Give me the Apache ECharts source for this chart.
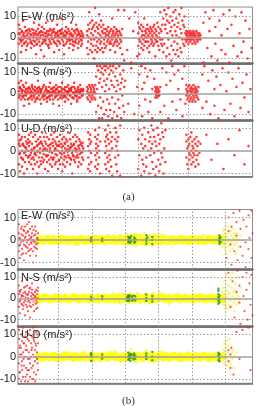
<!DOCTYPE html>
<html>
<head>
<meta charset="utf-8">
<script src="https://cdn.jsdelivr.net/npm/echarts@6/dist/echarts.min.js"></script>
<style>
  html, body { margin: 0; padding: 0; background: #fff; }
  #chart { width: 257px; height: 406px; }
</style>
</head>
<body>
<div id="chart"></div>
<script>
  // each row: [x, y, y, ...]  (x: sample position, y: acceleration m/s²)

  // ---- figure (a) ----
  const ewRedA = [
    [1,2,-3,6],[2,-1,4],[3,0,-2,-7],[4,3,-4],[5,-1,1,8],[6,2,-3],[7,5,0],[8,-2,3,-6],[9,1,-4],[10,-3,2],
    [11,0,4,10],[12,3,-1],[13,-2,1,-5],[14,4,-3],[15,0,2],[16,-4,1,7],[17,2,-2],[18,3,0,-8],[19,-1,-3],[20,1,4],
    [21,-2,2,6],[22,0,-4],[23,3,1,-6],[24,-3,5],[25,1,-1],[26,4,-2,-9],[27,-1,2],[28,2,-3,7],[29,0,3],[30,-4,1],
    [31,3,-1,-5],[32,-2,4],[33,1,-3],[34,2,0,8],[35,-1,3],[36,4,-2,-7],[37,0,1],[38,-3,2],[39,2,-4,6],[40,1,3],
    [41,-2,0,-6],[42,3,-3],[43,0,2,9],[44,-1,4],[45,2,-2],[46,-4,1,-8],[47,3,0],[48,1,-3,5],[49,-2,2],[50,4,-1],
    [51,0,3,-5],[52,-3,-1],[53,2,1,7],[54,-1,4],[55,1,-2,-6],[56,3,-4],[57,-2,2],[58,0,-1,6],[59,4,1],[60,-3,3,-5],
    [61,2,-2],[62,1,0],[63,-1,3,-4],[64,2,-3],[65,0,1],
    [1.5,-0.5,1.5],[3.5,2.5,-1.5],[6.5,0.5,-2.5],[9.5,3.5,-0.5],[12.5,-2.5,1.5],[15.5,-1.5,3.5],[18.5,1.5,-3.5],
    [21.5,-0.5,2.5],[24.5,2.5,-2.5],[27.5,0.5,-1.5],[30.5,1.5,-3.5],[33.5,3.5,-0.5],[36.5,-2.5,2.5],[39.5,0.5,-1.5],
    [42.5,1.5,3.5],[45.5,-3.5,0.5],[48.5,2.5,-0.5],[51.5,-1.5,1.5],[54.5,0.5,-3.5],[57.5,3.5,-2.5],[60.5,-0.5,1.5],[63.5,0.5,-1.5],
    [69,3,-5,1],[70,6,-2,-8],[71,0,4,12],[72,-6,7],[73,2,-3,-1],[74,8,-7,4],[75,-4,5,1],[76,6,-1,-10],[77,3,-6,14],
    [78,7,-4,0],[79,-2,5,-7],[80,4,-5,2],[81,-1,6,11],[82,1,-3,-6],[83,5,-2,8],[84,-5,3,0],[85,6,-7,2],[86,-3,4,-1],
    [87,0,2,-5],[88,4,-4,1],[89,-2,3,-13],[90,1,-1,5],[91,-3,2,0],[92,3,-2,-6],[93,0,4,-3],[94,-1,1,9],[95,2,-4,3],
    [96,-3,0,5],[97,1,-2,-7],[98,4,-1,2],[99,-2,3,-4],[100,0,1,13],[101,3,-3],[102,-1,2,-5],[103,1,-2],[104,4,-8],
    [106,13,-11],[109,-6],[111,9],[113,-12],[115,3],[117,12],[119,-9],
    [120,2,-4,7],[121,-1,5,-8],[122,4,-2],[123,0,6,-5],[124,-3,3,1],[125,5,-1,-6],[126,1,-4,9],[127,3,0,-2],
    [128,-2,4,2],[129,6,-5,0],[130,1,-2,4],[131,-4,3,-7],[132,2,0,5],[133,-1,4,-3],[134,3,-2,1],[135,0,5,-4],
    [136,-3,2,6],[137,4,-1,-9],[138,1,3,-2],[139,-2,0,7],[140,5,-4],[141,0,2,-6],[142,-1,4,12],[143,3,-3],[144,6,-1,-4],
    [145,9,-7],[146,13,-3],[147,4,6],[148,-9,11],[149,2,-5,8],[150,14,-1],[151,7,-8],[152,3,10],[153,-4,5,-11],
    [154,8,1],[155,-6,12],[156,6,-2],[157,-8,3,13],[158,1,9],[159,-3,5,-6],[160,7,-9],[161,11,0],[162,-5,4],
    [163,2,-7,14],[164,8,-1],[165,-3,6],[166,5,-4,10],[167,-1,2],
    [168,1,-2,3],[169,-1,2,0],[170,3,-3,1],[171,0,2,-1],[172,-2,1,3],[173,2,-1,0],[174,1,-3,2],[175,-1,0,3],
    [176,2,-2,1],[177,0,1,-3],[178,3,-1],[179,-2,2,0],[180,1,-1],[181,0,2],[182,-1,1],
    [185,7,-12],[187,12],[189,-5],[191,3,9],[193,-9],[195,13],[197,-3,5],[199,-11],[201,8],[203,1,-6],[205,11],
    [207,-8],[209,4],[211,-12,13],[213,6],[215,-4],[217,10],[219,-9],[221,2],[223,12,-7],[225,-2],[227,8],[229,-10],[231,4],[233,-5]
  ];

  const nsRedA = [
    [1,1,-2,5],[2,-1,3],[3,2,-3,6],[4,0,1],[5,-2,4],[6,3,-1,-6],[7,1,-3],[8,-1,2,5],[9,2,0],[10,-3,1],
    [11,0,3,-5],[12,2,-2],[13,-1,1],[14,3,-3,4],[15,0,2],[16,-2,-1],[17,1,3,-4],[18,-3,0],[19,2,-2],[20,0,1,6],
    [21,-1,3],[22,2,-3],[23,1,0,-5],[24,-2,2],[25,3,-1],[26,0,-3,4],[27,-1,1],[28,2,3],[29,-2,0,-4],[30,1,-2],
    [31,3,1],[32,-1,-3,5],[33,0,2],[34,2,-1],[35,-3,1,-5],[36,1,3],[37,0,-2],[38,2,0,4],[39,-1,2],[40,3,-3],
    [41,0,1,-6],[42,-2,3],[43,1,-1],[44,2,0,5],[45,-1,-2],[46,0,2],[47,3,-1,-4],[48,-2,1],[49,1,3],[50,0,-3,4],
    [51,2,1],[52,-1,-1],[53,1,2,-5],[54,3,-2],[55,-2,0],[56,0,3,5],[57,2,-1],[58,-1,1],[59,1,-3,-4],[60,3,2],
    [61,-2,0],[62,0,-2,4],[63,2,1],[64,-1,-1],[65,1,2],
    [1.5,-0.5,2.5],[4.5,1.5,-1.5],[7.5,0.5,-0.5],[10.5,2.5,-2.5],[13.5,-1.5,0.5],[16.5,1.5,-0.5],[19.5,-2.5,2.5],
    [22.5,0.5,1.5],[25.5,-0.5,-1.5],[28.5,1.5,-2.5],[31.5,-1.5,0.5],[34.5,0.5,2.5],[37.5,1.5,-1.5],[40.5,-0.5,0.5],
    [43.5,2.5,-2.5],[46.5,-1.5,1.5],[49.5,0.5,-0.5],[52.5,1.5,2.5],[55.5,-2.5,0.5],[58.5,0.5,-1.5],[61.5,1.5,0.5],[64.5,-0.5,1.5],
    [69,1,-2,3],[70,-3,2,0],[71,4,-1],[72,0,3,-4],[73,2,-2,1],[74,-1,4,-3],[75,3,0],[76,-2,1,2],[77,0,-3,4],
    [78,8,-9],[79,13,2],[80,-6,11],[81,5,-12],[82,13,-2,7],[83,10,-7],[84,3,12,-12],[85,-4,9],[86,13,6,-10],
    [87,1,11],[88,-8,13,4],[89,7,-3],[90,12,-11],[91,-5,9,2],[92,13,-8],[93,6,11],[94,-2,-12,4],[95,10,13],
    [96,-9,3],[97,8,-5],[98,12,1],[99,-11,6],[100,4,-3],[101,13,-7],[102,2,9],[103,-12,5],[104,7,-1],[105,-6,11],
    [106,3,-9],[107,6],[110,-5],[113,12],[116,-10],[119,3],
    [121,9,-6],[123,13],[124,-11,2],[126,5],[127,-3,12],[129,8],[130,-9],[132,11,-4],[134,2,-12],[136,7],
    [137,1,-2,3],[138,0,2,-1],[139,-2,1,3],[140,2,-1,0],[141,-1,1],[142,3,-9],[144,12],[146,-6],[148,4,10],
    [150,-12],[152,6],[154,-4,13],[156,9],[158,-8],[160,2,11],[162,-3],[164,7,-11],[166,13],[167,-5],
    [168,2,-1,4],[169,-3,1,0],[170,3,-2,1],[171,-1,4,-4],[172,1,-3,2],[173,0,3,-2],[174,-4,2,1],[175,4,-1,-3],
    [176,0,2,-2],[177,3,-4,1],[178,-1,0,2],[179,1,-2],[180,-3,3],
    [184,9,-7],[186,13],[188,-4],[190,6],[192,-10],[194,11],[196,2,-6],[198,8],[200,-12],[202,4],[204,12],
    [206,-8],[208,1],[210,10],[212,-5],[214,7],[216,-11],[218,3],[220,12],[222,-7],[224,5],[226,-2],[228,9],[230,-9],[232,2]
  ];

  const udRedA = [
    [1,3,-6,7],[2,-1,2,-9],[3,5,-3],[4,0,-7,6],[5,-4,3],[6,2,-1,-10],[7,6,-5],[8,-2,1,4],[9,-8,3],[10,0,5,-3],
    [11,-5,2,7],[12,4,-2],[13,-1,-6,8],[14,3,0],[15,-3,6,-8],[16,1,-4],[17,7,-1,-6],[18,-2,4],[19,2,-5,-10],[20,5,0],
    [21,-3,3,-7],[22,1,-1,6],[23,-6,4],[24,3,-3,8],[25,0,2,-5],[26,-4,6],[27,4,-8,1],[28,-2,3],[29,6,-5,0],[30,2,-2,-9],
    [31,-4,5],[32,0,1,-6],[33,3,7,-3],[34,-1,-7],[35,5,2,-4],[36,-3,0,8],[37,1,4,-6],[38,-5,3],[39,2,-2,6],[40,-8,0],
    [41,4,-4,2],[42,-1,7,-6],[43,3,-3],[44,0,5,-9],[45,-6,2],[46,6,-1,-4],[47,1,3,-7],[48,-3,0,5],[49,4,-5],[50,-2,2,8],
    [51,0,-3],[52,5,-6,1],[53,-4,3],[54,2,-1,-10],[55,-2,6,0],[56,3,-4],[57,-5,1,7],[58,0,4,-3],[59,6,-2],[60,-3,2,-7],
    [61,1,-5,5],[62,4,0],[63,-1,3,-6],[64,2,-3],[65,-4,1],
    [1.5,-1.5,4.5],[4.5,2.5,-3.5],[7.5,-0.5,1.5],[10.5,3.5,-2.5],[13.5,-3.5,0.5],[16.5,1.5,-1.5],[19.5,-0.5,2.5],
    [22.5,3.5,-4.5],[25.5,-1.5,0.5],[28.5,0.5,-2.5],[31.5,2.5,-0.5],[34.5,-3.5,3.5],[37.5,0.5,-1.5],[40.5,2.5,-4.5],
    [43.5,-1.5,1.5],[46.5,3.5,-2.5],[49.5,-0.5,0.5],[52.5,1.5,-3.5],[55.5,-2.5,2.5],[58.5,0.5,-0.5],[61.5,2.5,-1.5],[64.5,-0.5,3.5],
    [70,8,-3,2,-8],[71,-6,5,0],[72,3,-9,7],[73,-1,4,-5],[77,6,-2,9,-7],[78,1,-4,3],[79,-8,5,-1],[80,7,-6,2],
    [81,-3,10,0],[82,4,-10],[87,9,-1,4,-6],[88,2,-8,6],[89,-3,7,0],[90,5,-5,11],[91,-2,3,-9],[92,8,0,-4],
    [93,-7,4],[94,1,-11,6],[97,5,-3,10],[98,-6,2,8],[99,0,-9,4],[100,-2,6],[102,11,-11],
    [120,5,-8],[121,-2,9],[123,3,-11],[124,7,-4],[125,-6,1],[126,10,-9],[127,2,5],[128,-3,-7],[130,8,0],
    [131,-10,4],[132,6,-2],[133,1,11],[134,-5,3],[135,9,-8],[136,-1,6],[137,4,-11],[138,-7,2],[139,10],
    [140,0,-4,7],[141,-9,3],[142,5,-6],[143,12,-1],[144,-3,8],[145,6,-10],[146,1],[147,-5,9],
    [168,4,-3,7],[169,-6,1],[170,2,-8,5],[171,-1,3,-4],[172,6,-2],[173,0,-6,8],[174,-3,4,2],[175,1,-5,-1],
    [176,5,-2],[177,-7,3],[178,0,6,-4],[179,-2,2],[180,4,-6],[181,-1],[182,3],
    [188,7],[193,-4],[199,3],[205,-8],[210,5],[216,-2],[221,9],[226,-6],[230,2]
  ];

  // ---- figure (b) ----
  const ewRedB = [
    [1,3,-5,7],[2,-2,1,-8],[3,5,-1],[4,0,-4,6],[5,-6,2],[6,4,-2,-9],[7,1,6],[8,-3,3,-6],[9,7,-1],[10,0,-5,4],
    [11,-2,2,8],[12,5,-7],[13,-1,1,-4],[14,3,6],[15,-5,0,-10],[16,2,-3],[17,6,-1],[18,-2,4,-7],[19,1,-4],[20,3,0],
    [1.5,0.5,-2.5],[3.5,2.5,-6.5],[5.5,-0.5,4.5],[7.5,-2.5,1.5],[9.5,3.5,-3.5],[11.5,-4.5,0.5],[13.5,1.5,-1.5],
    [15.5,4.5,-0.5],[17.5,-3.5,2.5],[19.5,0.5,-1.5],
    [208,-8],[210,4,10],[212,-2],[213,6,-11],[215,12],[216,-5],[218,2,8],[219,-9],[221,13],[222,-3,5],
    [224,-7],[225,9],[227,-1,-12],[228,6],[230,11,-4],[231,1],[233,-8,13],[234,3]
  ];
  const ewYellowB = [
    [20,0.6,-0.9],[22,1.1,-0.4],[25,-1.2,0.3],[27,0.9,-0.7],[30,-0.3,1.3],[32,0.5,-1.1],[35,1.2,-0.6],[37,-0.9,0.4],
    [40,0.7,-1.3],[42,-0.2,1],[45,1.3,-0.8],[47,-0.5,0.6],[50,0.9,-1.2],[52,-0.7,0.2],[55,1,-0.4],[57,-1.3,0.8],
    [60,0.4,-0.9],[62,1.2,-0.3],[65,-0.6,0.9],[67,0.3,-1.2],[70,1.1,-0.7],[72,-0.4,0.5],[75,0.8,-1.1],[77,-1,1.4],
    [80,0.2,-0.6],[82,1.3,-0.9],[85,-0.5,0.7],[87,0.9,-1.3],[90,-0.2,1.1],[92,0.6,-0.8],[95,1.4,-0.4],[97,-1.1,0.3],
    [100,0.7,-0.9],[102,-0.3,1.6],[105,1,-1.4],[107,-0.7,0.5],[110,1.5,-1.2],[112,-0.2,0.8],[115,1.1,-1.6],[117,-0.6,2],
    [120,0.4,-1.1],[122,1.7,-0.5],[125,-1.3,0.9],[127,0.6,-1.8],[130,-0.2,1.4],[132,1,-0.9],[135,-1.5,0.5],[137,2,-0.6],
    [140,-0.9,1.2],[142,0.3,-1.4],[145,1.3,-0.4],[147,-0.8,0.8],[150,0.5,-1.2],[152,-0.3,1.1],[155,1,-0.7],[157,-1.2,0.3],
    [160,0.8,-0.5],[162,-0.6,1.3],[165,1.1,-1],[167,-0.2,0.6],[170,0.7,-1.3],[172,-1,1],[175,1.2,-0.3],[177,-0.5,0.8],
    [180,0.3,-1.1],[182,1,-0.6],[185,-0.9,0.5],[187,0.6,-1.2],[190,-0.3,1.2],[192,1.1,-0.8],[195,-0.7,0.4],[197,0.9,-1],
    [200,-0.4,1.3],[202,0.8,-0.9],[205,-1.1,0.6]
  ];
  const ewYellowTailB = [
    [60,-2.2],[90,2.2],[108,2.8],[118,-2.6],[126,3],[134,-2.9],[143,2.5],[153,-2.4],[185,2.3],
    [204,2,-3,1],[205,-1,4],[206,3,-2,5],[207,0,-4],[208,-6,2],[209,1,-1,6],[210,-3,3],[211,0,-5],[212,4,-2],
    [213,-1,2],[214,5,-4],[215,0,1],[216,-2,3],[217,2,-6],[218,-1,1],[219,3],[220,-3,0],[222,2]
  ];
  const ewGreenB = [
    [73,1,-0.5,0.2],[84,0.6,-0.4],[110,1.4,-1,0.2],[111,-0.3,1],[112,0.8,-1.3],[113,1.8,-0.5],[116,1,-1.2,0],
    [117,0.5,-0.8],[128,2.2,-1.6,0.4,-0.4],[129,1.2],[134,1.4,-1.8,0],[201,2,-1.8,0.8,-0.6,0],[202,1.2,-1]
  ];

  const nsRedB = [
    [1,2,-4,6],[2,-1,3,-7],[3,4,0],[4,-3,1,8],[5,1,-5],[6,5,-2],[7,-1,3,-8],[8,2,-3],[9,-4,6],[10,0,2,-6],
    [11,3,-1],[12,-2,5,-9],[13,1,-4],[14,4,0,7],[15,-3,2],[16,0,-6],[17,3,1],[18,-1,4,-5],[19,2,-2],[20,0,5],
    [1.5,-1.5,3.5],[3.5,1.5,-2.5],[5.5,-3.5,2.5],[7.5,0.5,5.5],[9.5,-1.5,1.5],[11.5,4.5,-3.5],[13.5,-0.5,2.5],
    [15.5,1.5,-1.5],[17.5,-2.5,0.5],[19.5,3.5,-4.5],
    [210,12],[212,-4],[214,8],[216,-9],[218,3],[219,13],[221,-2,6],[222,-12],[224,10],[225,1],[226,-6],
    [228,12,4],[229,-10],[231,7],[232,-3],[233,11],[234,-8]
  ];
  const nsYellowB = [
    [20,-0.7,0.8],[22,0.3,-1.2],[25,1.1,-0.5],[27,-0.4,1.3],[30,0.9,-0.8],[32,-1.2,0.2],[35,0.5,-0.9],[37,1.3,-0.3],
    [40,-0.6,0.7],[42,0.9,-1.3],[45,-0.2,0.4],[47,1.2,-0.9],[50,-0.8,0.6],[52,0.4,-1.1],[55,1.4,-0.3],[57,-0.5,0.9],
    [60,0.7,-1.2],[62,-1,0.3],[65,1.2,-0.6],[67,-0.3,0.9],[70,0.6,-1.3],[72,1.3,-0.2],[75,-0.9,0.5],[77,0.4,-0.8],
    [80,1.1,-1.2],[82,-0.6,0.7],[85,0.8,-0.4],[87,-1.3,1.2],[90,0.3,-0.7],[92,1,-1.1],[95,-0.4,0.6],[97,0.9,-1.4],
    [100,-1.1,1.3],[102,0.6,-0.5],[105,1.5,-0.9],[107,-0.2,1.1],[110,0.8,-1.5],[112,1.6,-0.3],[115,-0.9,0.7],[117,0.4,-1.2],
    [120,1.3,-0.6],[122,-1.4,0.9],[125,0.7,-0.4],[127,1.5,-1.1],[130,-0.5,0.3],[132,0.9,-1.5],[135,1.8,-0.6],[137,-1.1,0.5],
    [140,0.6,-0.9],[142,1.2,-0.2],[145,-0.7,1.4],[147,0.3,-1.1],[150,1,-0.5],[152,-1.3,0.8],[155,0.5,-0.8],[157,1.2,-0.3],
    [160,-0.6,0.9],[162,0.9,-1.2],[165,-0.3,0.4],[167,1.1,-0.9],[170,-1,0.6],[172,0.4,-0.5],[175,1.3,-1.1],[177,-0.7,0.2],
    [180,0.8,-0.9],[182,-0.4,1.2],[185,1,-0.6],[187,-1.2,0.5],[190,0.6,-0.3],[192,1.1,-1],[195,-0.5,0.8],[197,0.3,-1.2],
    [200,1.2,-0.4],[202,-0.8,0.7],[205,0.5,-1]
  ];
  const nsYellowTailB = [
    [95,2.4],[102,-2.1],[119,2.6],[131,-2.5],[141,2.9],[150,-2.7],[160,2.2],[175,-2.3],
    [204,1,-2,3],[205,-3,5],[206,2,-1,8],[207,0,-4],[208,4,-2,11],[209,-5,1],[210,3,-3,6],[211,0,2],[212,-1,9],
    [213,5,-4],[214,1,12],[215,-2,3],[216,4,-6],[217,0,7],[218,-3,2],[219,10],[220,1,-2],[222,5]
  ];
  const nsGreenB = [
    [73,0.8,-0.6],[84,1,-0.3],[109,0.6,-1.1],[110,1.5,-0.5,0.3],[111,-1.2,0.9],[112,1.3,-0.2],[114,0.7,-1],
    [115,-0.4,1.4],[117,1,-0.9],[128,1.8,-1.2,0.2],[134,1.1,-1.5,-0.2],[200,3.5,2,0.5,-1,-2.5,4.5],[201,1.2,-0.3,-1.8]
  ];

  const udRedB = [
    [1,8,-3,12,-10],[2,1,-7,5],[3,-11,4,10],[4,-2,7,-6],[5,13,-9,2],[6,-4,6],[7,0,-11,9],[8,5,-5,11],[9,-8,3],
    [10,10,-1,-11],[11,2,-6,7],[12,-3,12,-9],[13,6,0],[14,-10,4,9],[15,1,-4,13],[16,-7,7],[17,3,-2,-11],
    [18,11,-8,5],[19,-1,2],[20,6,-6],
    [1.5,4,-7],[3.5,-4,1],[5.5,6,-1],[7.5,3,-9],[9.5,-6,8],[11.5,-1,10],[13.5,-5,3],[15.5,8,-10],[17.5,0,6],[19.5,-3,10],
    [210,-2,3],[212,1,-5],[213,4],[215,-8],[218,11],[221,-1],[224,12],[230,13],[232,-6]
  ];
  const udYellowB = [
    [20,0.9,-0.5],[22,-1.1,0.6],[25,0.4,-1.3],[27,1.2,-0.2],[30,-0.8,0.7],[32,0.6,-1],[35,-0.3,1.2],[37,1,-1.2],
    [40,-1.2,0.5],[42,0.3,-0.6],[45,0.8,-1.1],[47,-0.9,1.3],[50,1.3,-0.3],[52,-0.4,0.8],[55,0.6,-1.3],[57,1.1,-0.5],
    [60,-1,0.2],[62,0.5,-0.8],[65,1.4,-1.1],[67,-0.6,0.4],[70,0.2,-1],[72,1,-0.6],[75,-1.3,1.1],[77,0.7,-0.3],
    [80,-0.5,0.9],[82,0.4,-1.4],[85,1.2,-0.7],[87,-0.8,0.5],[90,0.9,-1.1],[92,-0.2,1.4],[95,0.6,-0.5],[97,1.3,-1],
    [100,-0.9,0.4],[102,0.2,-1.3],[105,1.1,-0.4],[107,-1.4,0.9],[110,0.7,-0.8],[112,1.5,-0.2],[115,-0.6,1.2],[117,0.3,-1.5],
    [120,1.2,-0.5],[122,-1,0.6],[125,0.8,-1.2],[127,1.6,-0.3],[130,-0.4,1],[132,0.5,-1.4],[135,1.3,-0.8],[137,-1.5,0.4],
    [140,0.9,-0.6],[142,-0.2,1.5],[145,0.6,-1.1],[147,1.1,-0.3],[150,-0.8,0.7],[152,0.4,-1.2],[155,1.2,-0.5],[157,-0.6,1],
    [160,0.3,-0.9],[162,1,-1.3],[165,-1.1,0.5],[167,0.7,-0.4],[170,1.3,-1],[172,-0.5,0.8],[175,0.2,-1.2],[177,1.1,-0.6],
    [180,-0.9,0.4],[182,0.6,-1],[185,1.2,-0.3],[187,-0.4,0.9],[190,0.8,-1.3],[192,-1.2,0.6],[195,0.5,-0.5],[197,1,-1.1],
    [200,-0.7,1.2],[202,0.4,-0.8],[205,-0.2,1]
  ];
  const udYellowTailB = [
    [96,2.5],[103,-2.2],[113,3.5],[118,-2.4],[128,2.8],[136,-2.6],[145,2.2],
    [204,1,-2],[205,3,-1],[206,-3,2,6],[207,0,4],[208,-1,7],[209,2,-4],[210,5,0],[211,-2,8],[212,1,-3],
    [213,4],[214,-1,2],[215,3,-5],[216,0],[218,2]
  ];
  const udGreenB = [
    [73,1.6,-1.8,0,0.8],[84,1,-0.8],[110,1.8,-1.4,0],[111,0.6,-0.7],[112,1.3,-1.8,0.2],[113,-0.5,1],[115,0.8,-1.2],
    [116,1.5,-0.3],[117,-1,0.5],[128,1.5,-1,0.3],[134,2.2,-1.6,0],[200,1.8,-1.5,0.5],[201,-0.6,1.1,-2]
  ];

  const panelNames = ['E-W (m/s²)', 'N-S (m/s²)', 'U-D (m/s²)'];
  const yTicks = [-10, 0, 10];
  const vGridA = [44, 120, 170];
  const vGridB = [40, 74, 107, 140, 174, 207];
  const captions = ['(a)', '(b)'];

  const toPoints = rows => rows.flatMap(r => r.slice(1).map(y => [r[0], y]));

  // layout of the six stacked panels
  const panels = [
    { top: 7, bottom: 63.5, min: -12.4, max: 14.5, label: 16.5, red: ewRedA, grid: vGridA },
    { top: 64.5, bottom: 120, min: -12.8, max: 13.8, label: 72.3, red: nsRedA, grid: vGridA },
    { top: 121, bottom: 176.7, min: -11.4, max: 13, label: 129, red: udRedA, grid: vGridA, last: true },
    { top: 209.5, bottom: 269, min: -12.9, max: 13.6, label: 216, red: ewRedB, yellow: ewYellowB, tail: ewYellowTailB, green: ewGreenB, grid: vGridB },
    { top: 270, bottom: 326.7, min: -13.3, max: 13.3, label: 278, red: nsRedB, yellow: nsYellowB, tail: nsYellowTailB, green: nsGreenB, grid: vGridB },
    { top: 327.5, bottom: 383.3, min: -11.9, max: 13.1, label: 335, red: udRedB, yellow: udYellowB, tail: udYellowTailB, green: udGreenB, grid: vGridB, last: true }
  ];

  const chart = echarts.init(document.getElementById('chart'));
  const grids = [], xAxes = [], yAxes = [], series = [], titles = [];
  const dotted = { type: [1.5, 2], color: '#9a9a9a', width: 1 };

  panels.forEach((p, i) => {
    grids.push({
      left: 18, right: 4.5, top: p.top, height: p.bottom - p.top,
      show: true, borderColor: '#8c8c8c', borderWidth: 1,
      containLabel: false, outerBoundsMode: 'none'
    });
    xAxes.push({
      gridIndex: i, type: 'value', min: 0, max: 234,
      axisLabel: { show: false }, axisTick: { show: false }, splitLine: { show: false },
      axisLine: { show: true, onZero: false, lineStyle: { color: '#6e6e6e', width: p.last ? 1.5 : 2.5 } }
    });
    yAxes.push({
      gridIndex: i, type: 'value', min: p.min, max: p.max,
      axisLine: { show: false }, axisTick: { show: false }, splitLine: { show: false },
      axisLabel: {
        customValues: yTicks, margin: 2, fontSize: 11, color: '#222',
        fontFamily: 'Liberation Sans'
      }
    });
    titles.push({
      text: panelNames[i % 3], left: 21, top: p.label - 6.5, padding: 0,
      textStyle: { fontSize: 11, fontWeight: 'normal', color: '#222', fontFamily: 'Liberation Sans', lineHeight: 13 }
    });

    series.push({
      type: 'scatter', xAxisIndex: i, yAxisIndex: i, data: [], silent: true, z: 1,
      markLine: {
        silent: true, symbol: 'none', label: { show: false }, animation: false,
        data: [
          ...p.grid.map(v => ({ xAxis: v, lineStyle: dotted })),
          { yAxis: 10, lineStyle: dotted },
          { yAxis: -10, lineStyle: dotted },
          { yAxis: 0, lineStyle: { type: 'solid', color: '#a0a0a0', width: 1.6 } }
        ]
      }
    });
    if (p.yellow) {
      series.push({
        type: 'scatter', xAxisIndex: i, yAxisIndex: i, z: 2, symbolSize: 5,
        itemStyle: { color: '#ffff10', opacity: 0.95 },
        data: toPoints(p.yellow)
      });
      series.push({
        type: 'scatter', xAxisIndex: i, yAxisIndex: i, z: 2, symbolSize: 2.6,
        itemStyle: { color: '#f4f040', opacity: 0.75 },
        data: toPoints(p.tail)
      });
    }
    series.push({
      type: 'scatter', xAxisIndex: i, yAxisIndex: i, z: 3,
      symbolSize: p.yellow ? 2.2 : 2.6,
      itemStyle: { color: '#ff1a1a', opacity: p.yellow ? 0.75 : 0.85 },
      data: toPoints(p.red)
    });
    if (p.green) {
      series.push({
        type: 'scatter', xAxisIndex: i, yAxisIndex: i, z: 4, symbolSize: 2.4,
        itemStyle: { color: '#1e8a1e' },
        data: toPoints(p.green)
      });
    }
  });

  titles.push(
    { text: captions[0], left: 'center', top: 190.5, padding: 0,
      textStyle: { fontFamily: 'Liberation Serif', fontSize: 11, fontWeight: 'normal', color: '#333', lineHeight: 13 } },
    { text: captions[1], left: 'center', top: 395, padding: 0,
      textStyle: { fontFamily: 'Liberation Serif', fontSize: 11, fontWeight: 'normal', color: '#333', lineHeight: 13 } }
  );

  chart.setOption({
    animation: false,
    title: titles,
    grid: grids,
    xAxis: xAxes,
    yAxis: yAxes,
    series
  });
</script>
</body>
</html>
